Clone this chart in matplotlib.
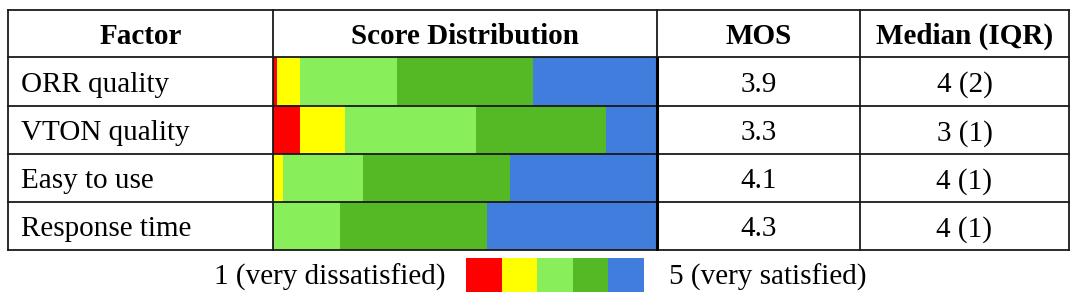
import matplotlib.pyplot as plt
import numpy as np

plt.rcParams['font.family'] = ['Liberation Serif', 'DejaVu Serif']

# data (percent of answers per score 1..5)
factors = ["ORR quality", "VTON quality", "Easy to use", "Response time"]
score_1 = [1.1, 7.0, 0.0, 0.0]
score_2 = [5.9, 11.8, 2.7, 0.0]
score_3 = [25.2, 34.0, 20.7, 17.4]
score_4 = [35.4, 34.0, 38.3, 38.4]
score_5 = [32.4, 13.2, 38.3, 44.2]
mos = ["3.9", "3.3", "4.1", "4.3"]
median_iqr = ["4 (2)", "3 (1)", "4 (1)", "4 (1)"]
headers = ["Factor", "Score Distribution", "MOS", "Median (IQR)"]
legend_low = "1 (very dissatisfied)"
legend_high = "5 (very satisfied)"

colors = ["#ff0000", "#ffff00", "#88ee5a", "#55b925", "#417ddc"]

W, H = 1079, 295
col_x = [8, 273, 657, 860, 1069]
row_y = [10, 57, 105.5, 154, 202, 250]
fs = 21

fig = plt.figure(figsize=(W / 100, H / 100), dpi=100)

# stacked bars for the score distribution column
axb = fig.add_axes([col_x[1] / W, 1 - row_y[-1] / H,
                    (col_x[2] - col_x[1]) / W, (row_y[-1] - row_y[1]) / H])
axb.set_zorder(1)
dist = np.array([score_1, score_2, score_3, score_4, score_5])
left = np.zeros(len(factors))
for k in range(5):
    axb.barh(np.arange(len(factors)), dist[k], left=left, height=1.0,
             color=colors[k], linewidth=0)
    left += dist[k]
axb.set_xlim(0, 100)
axb.set_ylim(len(factors) - 0.5, -0.5)
axb.axis("off")

# overlay for grid lines and texts, in pixel units
ax = fig.add_axes([0, 0, 1, 1])
ax.set_zorder(2)
ax.patch.set_visible(False)
ax.set_xlim(0, W)
ax.set_ylim(H, 0)
ax.axis("off")

lw = 1.3
for y in row_y:
    ax.plot([col_x[0], col_x[-1]], [y, y], color="#1a1a1a", lw=lw, solid_capstyle="projecting")
for x in col_x:
    ax.plot([x, x], [row_y[0], row_y[-1]], color="#1a1a1a", lw=lw, solid_capstyle="projecting")
ax.plot([col_x[2], col_x[2]], [row_y[1], row_y[-1]], color="black", lw=2.2,
        solid_capstyle="butt")

centers = [(col_x[i] + col_x[i + 1]) / 2 for i in range(4)]
hy = (row_y[0] + row_y[1]) / 2
for i, h in enumerate(headers):
    ax.text(centers[i], hy + 10, h, ha="center", va="baseline",
            fontsize=fs, fontweight="bold")

for r, name in enumerate(factors):
    cy = (row_y[r + 1] + row_y[r + 2]) / 2 + 10.5
    ax.text(col_x[0] + 13, cy, name, ha="left", va="baseline", fontsize=fs)
    ax.text(centers[2], cy, mos[r], ha="center", va="baseline", fontsize=fs)
    ax.text(centers[3], cy, median_iqr[r], ha="center", va="baseline", fontsize=fs)

# colour legend under the table
axl = fig.add_axes([466 / W, 1 - 292 / H, 178 / W, 34 / H])
axl.bar(np.arange(5), np.ones(5), width=1.0, color=colors, linewidth=0)
axl.set_xlim(-0.5, 4.5)
axl.set_ylim(0, 1)
axl.axis("off")
ax.text(445, 285, legend_low, ha="right", va="baseline", fontsize=fs)
ax.text(669, 285, legend_high, ha="left", va="baseline", fontsize=fs)

fig.savefig("out.png", dpi=100)
